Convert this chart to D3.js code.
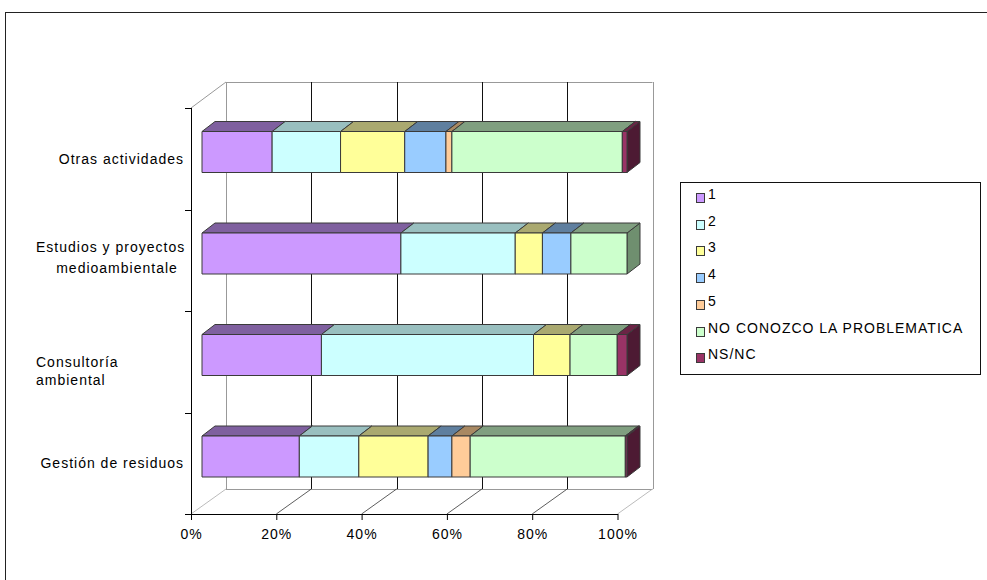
<!DOCTYPE html>
<html>
<head>
<meta charset="utf-8">
<script src="https://cdn.jsdelivr.net/npm/d3@7"></script>
<style>
  html, body { margin: 0; padding: 0; background: #fff; }
  svg { display: block; }
  text { font-family: "Liberation Sans", Arial, sans-serif; font-size: 14px; fill: #000; letter-spacing: 1px; }
</style>
</head>
<body>
<svg id="chart" width="987" height="580"></svg>
<script>
// Categories, bottom of the list drawn at the bottom of the chart
const categories = ["Otras actividades", "Estudios y proyectos medioambientale", "Consultoría ambiental", "Gestión de residuos"];
const categoryLines = [["Otras actividades"], ["Estudios y proyectos", "medioambientale"], ["Consultoría", "ambiental"], ["Gestión de residuos"]];

// Response shares (%) per category, same order as categories
const seriesNames = ["1", "2", "3", "4", "5", "NO CONOZCO LA PROBLEMATICA", "NS/NC"];
const s1   = [16.5, 46.8, 28.1, 22.9];
const s2   = [16.1, 26.9, 49.9, 14.0];
const s3   = [15.1,  6.4,  8.6, 16.3];
const s4   = [ 9.7,  6.7,  0.0,  5.6];
const s5   = [ 1.4,  0.0,  0.0,  4.3];
const sNo  = [40.1, 13.2, 11.1, 36.5];
const sNs  = [ 1.1,  0.0,  2.3,  0.4];
const tickValues = [0, 0.2, 0.4, 0.6, 0.8, 1];

const seriesValues = [s1, s2, s3, s4, s5, sNo, sNs];
const fills = ["#CC99FF", "#CCFFFF", "#FFFF99", "#99CCFF", "#FFCC99", "#CCFFCC", "#993366"];
const tops  = ["#7F609F", "#99BFBF", "#AAA970", "#5F7F9F", "#A88862", "#809F80", "#6B2445"];
const sides = ["#6B5087", "#86A8A8", "#8E8E55", "#50708F", "#8C7050", "#6F8F6F", "#4D1A33"];

// Table for the stack layout
const rows = categories.map((c, i) => {
  const r = { category: c };
  seriesNames.forEach((s, k) => { r[s] = seriesValues[k][i]; });
  return r;
});
const stacked = d3.stack().keys(seriesNames).offset(d3.stackOffsetExpand)(rows);

const svg = d3.select("#chart");

// Outer chart frame
svg.append("line").attr("x1", 5).attr("y1", 12.5).attr("x2", 987).attr("y2", 12.5).attr("stroke", "#222");
svg.append("line").attr("x1", 5.5).attr("y1", 12).attr("x2", 5.5).attr("y2", 580).attr("stroke", "#222");

// Scales: front floor edge, back wall, and bar front faces
const xFront = d3.scaleLinear().domain([0, 1]).range([191, 617.5]);
const xBack  = d3.scaleLinear().domain([0, 1]).range([226, 652.5]);
const xBar   = d3.scaleLinear().domain([0, 1]).range([202, 627]);
const yBand  = d3.scaleBand().domain(categories).range([108, 514]).padding(0);

const floorY = 514, backFloorY = 489, wallTopY = 82, axisTopY = 108;
const depthX = 13, depthY = 10;        // bar depth projection
const barOffset = 23.5, barH = 41;     // front face placement inside each band

// Walls and floor
const walls = svg.append("g");
walls.append("line").attr("x1", 191).attr("y1", axisTopY).attr("x2", xBack(0)).attr("y2", wallTopY).attr("stroke", "#999");
walls.append("line").attr("x1", xBack(0)).attr("y1", wallTopY + 0.5).attr("x2", xBack(1)).attr("y2", wallTopY + 0.5).attr("stroke", "#999");
walls.append("line").attr("x1", xBack(0)).attr("y1", backFloorY + 0.5).attr("x2", xBack(1)).attr("y2", backFloorY + 0.5).attr("stroke", "#999");
tickValues.forEach(t => {
  const edge = (t === 0 || t === 1);
  const bx = Math.round(xBack(t)) + 0.5;
  walls.append("line").attr("x1", bx).attr("y1", wallTopY).attr("x2", bx).attr("y2", backFloorY)
    .attr("stroke", edge ? "#999" : "#111");
  walls.append("line").attr("x1", xFront(t)).attr("y1", floorY).attr("x2", xBack(t)).attr("y2", backFloorY)
    .attr("stroke", edge ? "#aaa" : "#333").attr("stroke-width", 0.8);
});

// Bars
const barsG = svg.append("g").attr("stroke", "#3a3a3a").attr("stroke-width", 1).attr("stroke-linejoin", "round");
categories.forEach((c, ci) => {
  const y0 = yBand(c) + barOffset;
  stacked.forEach((layer, k) => {
    const d = layer[ci];
    const a = xBar(d[0]), b = xBar(d[1]);
    if (b - a < 0.01) return;
    const g = barsG.append("g");
    g.append("path").attr("fill", sides[k])
      .attr("d", `M${b},${y0}L${b + depthX},${y0 - depthY}L${b + depthX},${y0 + barH - depthY}L${b},${y0 + barH}Z`);
    g.append("path").attr("fill", tops[k])
      .attr("d", `M${a},${y0}L${a + depthX},${y0 - depthY}L${b + depthX},${y0 - depthY}L${b},${y0}Z`);
    g.append("rect").attr("fill", fills[k])
      .attr("x", a).attr("y", y0).attr("width", b - a).attr("height", barH);
  });
});

// Value axis along the front floor edge
const axis = d3.axisBottom(xFront).tickValues(tickValues).tickFormat(d3.format(".0%"))
  .tickSize(6).tickSizeOuter(0).tickPadding(9);
const axG = svg.append("g").attr("transform", `translate(0,${floorY})`).call(axis);
axG.select(".domain").attr("stroke", "#000");
axG.selectAll(".tick line").attr("stroke", "#000");
axG.selectAll(".tick text").attr("fill", "#000").style("font-size", "14px")
  .style("font-family", '"Liberation Sans", Arial, sans-serif');

// Category axis (vertical front edge with boundary ticks)
const catG = svg.append("g");
catG.append("line").attr("x1", 191.5).attr("y1", axisTopY).attr("x2", 191.5).attr("y2", floorY).attr("stroke", "#000");
const bounds = categories.map(c => yBand(c)).concat([yBand.range()[1]]);
bounds.forEach(y => {
  catG.append("line").attr("x1", 185).attr("y1", Math.round(y) + 0.5).attr("x2", 191).attr("y2", Math.round(y) + 0.5).attr("stroke", "#000");
});

// Category labels
categoryLines.forEach((lines, i) => {
  const mid = yBand(categories[i]) + yBand.bandwidth() / 2;
  if (lines.length === 1) {
    catG.append("text").attr("x", 184).attr("y", mid + 5).attr("text-anchor", "end").text(lines[0]);
  } else if (i === 1) {
    catG.append("text").attr("x", 36).attr("y", mid - 8).text(lines[0]);
    catG.append("text").attr("x", 117).attr("y", mid + 12.5).attr("text-anchor", "middle").text(lines[1]);
  } else {
    catG.append("text").attr("x", 36).attr("y", mid + 5.7).text(lines[0]);
    catG.append("text").attr("x", 36).attr("y", mid + 23).text(lines[1]);
  }
});

// Legend
const lg = svg.append("g");
lg.append("rect").attr("x", 680.5).attr("y", 182.5).attr("width", 300).attr("height", 192)
  .attr("fill", "#fff").attr("stroke", "#111");
seriesNames.forEach((s, k) => {
  const top = 193 + k * 26.7;
  lg.append("rect").attr("x", 696.5).attr("y", Math.round(top) + 0.5).attr("width", 8).attr("height", 9)
    .attr("fill", fills[k]).attr("stroke", "#3a3a3a");
  lg.append("text").attr("x", 708).attr("y", top + 6).text(s);
});
</script>
</body>
</html>
